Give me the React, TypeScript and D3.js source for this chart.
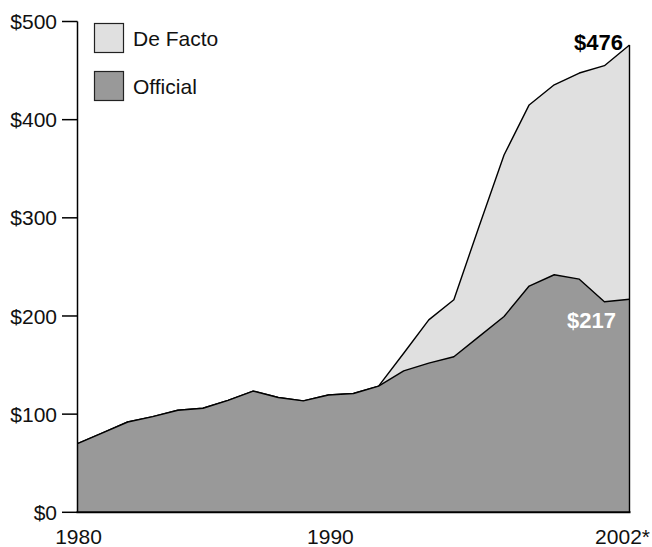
import React from "react";
import * as d3 from "d3";

const years = [1980,1981,1982,1983,1984,1985,1986,1987,1988,1989,1990,1991,1992,1993,1994,1995,1996,1997,1998,1999,2000,2001,2002];
const official = [70,81,92,97.5,104,106,114,123.5,117,113.5,119.5,121,128.5,144,152,158.5,179,199.5,230.5,242,237.5,214.5,217];
const deFacto = [70,81,92,97.5,104,106,114,123.5,117,113.5,119.5,121,128.5,162,196,216.5,291,364,415,435.5,447.5,455,476];
const yTicks = [0,100,200,300,400,500];
const xTickYears = [1980,1990,2002];
const xTickLabels = ["1980","1990","2002*"];
const legendLabels = ["De Facto","Official"];

const FONT = "'Liberation Sans', Arial, Helvetica, sans-serif";
const C_DF = "#e0e0e0";
const C_OF = "#999999";

export default function App() {
  const W = 652, H = 547;
  const x = d3.scaleLinear().domain([1980, 2002]).range([77.5, 629.5]);
  const y = d3.scaleLinear().domain([0, 500]).range([512.3, 21.5]);

  const dfData = years.map((yr, i) => ({ yr, v: deFacto[i] }));
  const ofData = years.map((yr, i) => ({ yr, v: official[i] }));

  const area = d3.area<{ yr: number; v: number }>()
    .x(d => x(d.yr)).y0(y(0)).y1(d => y(d.v));
  const line = d3.line<{ yr: number; v: number }>()
    .x(d => x(d.yr)).y(d => y(d.v));

  const last = years.length - 1;

  return (
    <svg width={W} height={H} style={{ position: "absolute", left: 0, top: 0 }} fontFamily={FONT}>
      <rect width={W} height={H} fill="#fff" />
      <path d={area(dfData) || ""} fill={C_DF} stroke="none" />
      <path d={line(dfData) || ""} fill="none" stroke="#000" strokeWidth={1.4} strokeLinejoin="round" />
      <path d={area(ofData) || ""} fill={C_OF} stroke="none" />
      <path d={line(ofData) || ""} fill="none" stroke="#000" strokeWidth={1.4} strokeLinejoin="round" />
      <line x1={x(2002)} x2={x(2002)} y1={y(0)} y2={y(deFacto[last])} stroke="#000" strokeWidth={1.4} />

      {/* axes */}
      <line x1={x(1980)} x2={x(1980)} y1={y(500)} y2={y(0)} stroke="#000" strokeWidth={1.5} />
      <line x1={x(1980) - 1} x2={x(2002) + 1} y1={y(0)} y2={y(0)} stroke="#000" strokeWidth={2} />
      {yTicks.map(t => (
        <g key={t}>
          <line x1={62} x2={x(1980)} y1={y(t)} y2={y(t)} stroke="#000" strokeWidth={1.5} />
          <text x={57} y={y(t)} dy="0.36em" textAnchor="end" fontSize={21} fill="#111">${t}</text>
        </g>
      ))}
      {xTickYears.map((yr, i) => (
        <text key={yr} x={i === xTickYears.length - 1 ? 650 : x(yr) + (i === 1 ? 2 : 1)} y={544}
          textAnchor={i === xTickYears.length - 1 ? "end" : "middle"} fontSize={21} fill="#111">{xTickLabels[i]}</text>
      ))}

      {/* legend */}
      {legendLabels.map((lab, i) => (
        <g key={lab}>
          <rect x={94.5} y={23.5 + i * 48} width={29} height={29} fill={i === 0 ? C_DF : C_OF} stroke="#222" strokeWidth={1.2} />
          <text x={133} y={45.5 + i * 48} fontSize={21} fill="#111">{lab}</text>
        </g>
      ))}

      {/* value labels */}
      <text x={623} y={50} textAnchor="end" fontSize={22} fontWeight="bold" fill="#000">${deFacto[last]}</text>
      <text x={616} y={328} textAnchor="end" fontSize={22} fontWeight="bold" fill="#fff">${official[last]}</text>
    </svg>
  );
}
